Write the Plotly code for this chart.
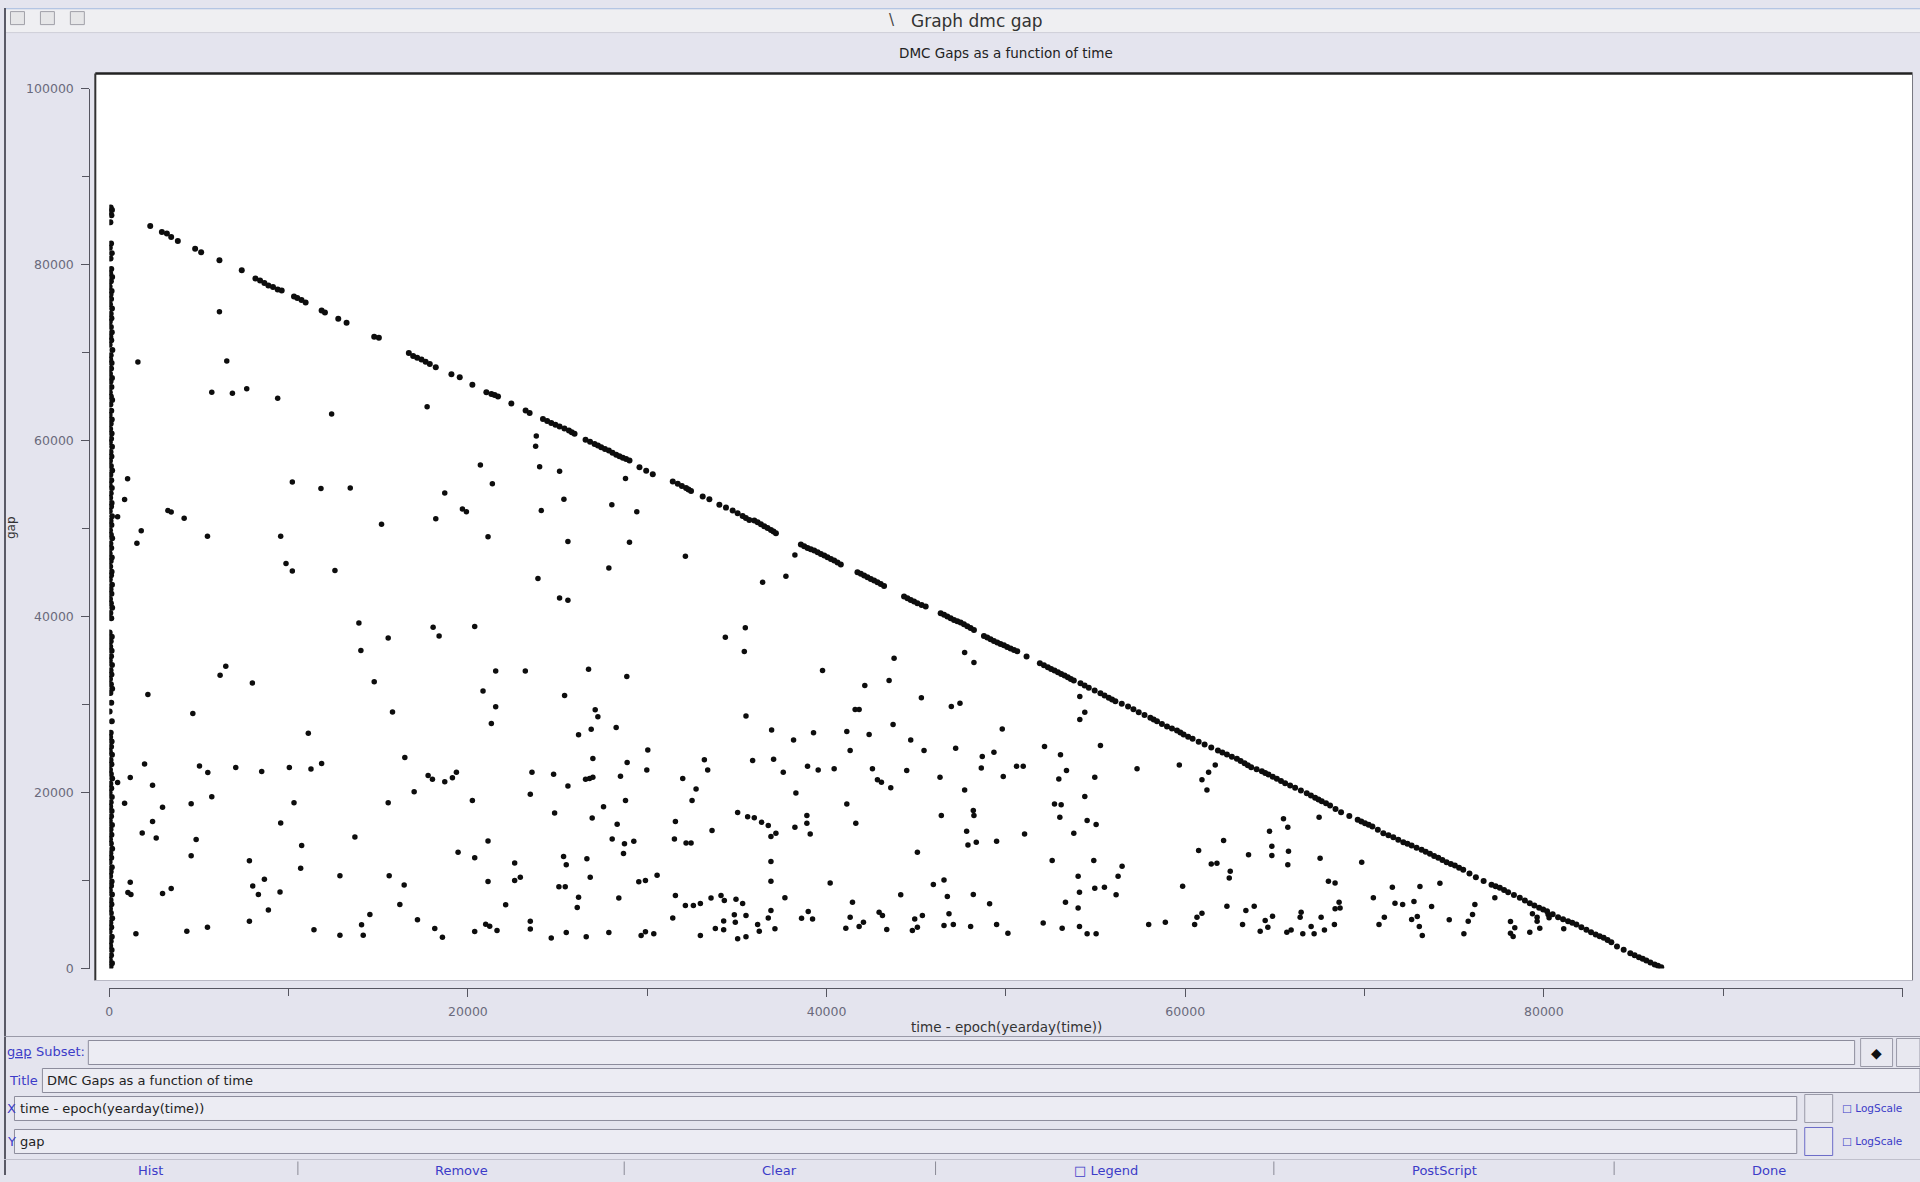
import plotly.graph_objects as go

# ---------------- data ----------------
x_tick_vals = [0, 20000, 40000, 60000, 80000]
x_tick_text = ["0", "20000", "40000", "60000", "80000"]
y_tick_vals = [0, 20000, 40000, 60000, 80000, 100000]
y_tick_text = ["0", "20000", "40000", "60000", "80000", "100000"]

# vertical cluster of gaps at time ~0
col_pts = [(80,86500),(150,86200),(40,85900),(120,85600),(60,84800),(100,82400),(30,81900),(140,81300),(70,80700),(110,79500),(50,79000),(160,78600),(90,78100),(20,77500),(130,77000),(70,76600),(100,76100),(40,75500),(150,75000),(80,74400),(120,73900),(30,73500),(90,72900),(140,72300),(60,71800),(110,71400),(20,70900),(170,70300),(80,69700),(50,69200),(130,68800),(100,68200),(40,67600),(150,67100),(70,66700),(120,66100),(30,65500),(90,65000),(160,64600),(60,64100),(110,63400),(20,62900),(140,62400),(80,61900),(50,61300),(130,60800),(100,60200),(30,59800),(150,59300),(70,58700),(120,58200),(40,57700),(90,57100),(160,56600),(60,56100),(110,55500),(20,55000),(140,54600),(80,54000),(50,53500),(130,52900),(100,52500),(30,52000),(150,51400),(70,50900),(120,50400),(40,49800),(90,49300),(160,48900),(60,48300),(110,47800),(20,47200),(140,46700),(80,46300),(50,45700),(130,45100),(100,44700),(30,44200),(150,43600),(70,43100),(120,42600),(40,42000),(90,41500),(160,41000),(60,40400),(110,39800),(20,38200),(140,37700),(80,37200),(50,36600),(130,36100),(100,35500),(30,35000),(150,34500),(70,33900),(120,33400),(40,32900),(90,32300),(160,31800),(60,31300),(110,30200),(20,29200),(140,28100),(80,26800),(50,26300),(130,25800),(100,25200),(30,24700),(150,24300),(70,23700),(120,23200),(40,22600),(90,22100),(160,21600),(60,21000),(110,20500),(20,20000),(140,19500),(80,18900),(50,18400),(130,17900),(100,17300),(30,16800),(150,16300),(70,15800),(120,15200),(40,14700),(90,14200),(160,13600),(60,13100),(110,12600),(20,12100),(140,11500),(80,11000),(50,10500),(130,9900),(100,9400),(30,8900),(150,8400),(70,7800),(120,7300),(40,6800),(90,6300),(160,5700),(60,5200),(110,4700),(20,4200),(140,3600),(80,3100),(50,2600),(130,2100),(100,1500),(30,1000),(150,600),(70,200)]

# upper boundary (gap equal to the rest of the day)
diag_pts = [(2283,84390),(2932,83700),(3211,83530),(3452,83130),(3823,82670),(4788,81810),(5123,81410),(6143,80490),(7387,79350),(8150,78420),(8408,78200),(8649,77920),(8872,77630),(9130,77450),(9391,77170),(9614,77060),(10301,76370),(10486,76200),(10720,75960),(10950,75690),(11841,74770),(12027,74540),(12769,73850),(13233,73390),(14773,71790),(15034,71680),(16704,69960),(16945,69620),(17170,69420),(17409,69210),
(17640,68960),(17873,68710),(18207,68330),(19079,67530),(19543,67200),(20248,66340),(21028,65490),(21306,65300),(21490,65170),(21678,65020),(22420,64210),(23218,63410),(23441,63120),(24184,62460),(24420,62220),(24648,61990),(24880,61800),(25111,61610),(25380,61380),(25631,61140),(25790,60950),(25946,60760),(26559,60090),(26810,59860),(27060,59620),(27250,59430),(27432,59240),(27640,59050),(27858,58860),(28060,58620),(28266,58390),(28450,58220),(28638,58060),(28820,57890),(29009,57730),(29566,56970),(29940,56570),(30308,56160),(31422,55360),(31700,55080),(31930,54840),(32164,54600),(32300,54430),(32442,54270),(33092,53650),(33463,53320),(34020,52710),(34390,52380),(34762,52040),(35040,51740),(35319,51430),(35500,51200),(35690,50960),
(35970,50910),(36154,50718),(36340,50490),(36526,50263),(36710,50050),(36897,49847),(37040,49660),(37175,49468),(38567,48180),(38750,47990),(38938,47801),(39120,47650),(39310,47498),(39500,47310),(39681,47119),(39870,46930),(40052,46740),(40240,46550),(40423,46362),(40610,46130),(40794,45907),(41722,45036),(41910,44850),(42094,44657),(42280,44470),(42465,44278),(42650,44090),(42836,43900),(43020,43690),(43207,43483),(44321,42271),(44510,42080),(44692,41892),(44880,41700),(45063,41513),(45300,41320),(45527,41134),(46362,40377),(46550,40190),(46734,39998),(46920,39810),(47105,39619),(47290,39470),(47476,39316),(47660,39110),(47847,38899),(48030,38690),(48218,38483),(48775,37801),(48960,37610),(49146,37422),(49330,37230),(49518,37043),(49700,36890),(49889,36740),(50070,36550),(50260,36361),(50450,36210),(50631,36058),(51151,35452),(51893,34694),(52120,34470),(52339,34240),(52520,34050),(52710,33861),(52900,33670),(53081,33482),(53270,33290),(53453,33104),(53620,32910),(53787,32725),
(54158,32424),(54390,32160),(54622,31894),(54950,31590),(55271,31288),(55500,31020),(55735,30758),(55920,30570),(56106,30379),(56460,30080),(56812,29773),(57110,29450),(57406,29129),(57730,28810),(58055,28485),(58240,28300),(58426,28106),(58700,27800),(58983,27500),(59260,27270),(59540,27045),(59730,26820),(59911,26591),(60160,26340),(60412,26098),(60750,25780),(61080,25455),(61450,25110),(61823,24773),(62070,24550),(62324,24318),(62600,24070),(62881,23826),(63090,23580),(63308,23333),(63490,23110),(63679,22879),(63980,22650),(64273,22424),(64460,22230),(64644,22045),(64880,21800),(65108,21553),(65340,21310),(65572,21060),(65850,20800),(66129,20530),(66450,20230),(66778,19924),(67010,19660),(67242,19394),(67430,19200),(67614,19015),(67850,18770),(68078,18522),(68380,18140),(68690,17765),(69150,17330),(69618,16894),(69820,16700),(70026,16515),(70230,16330),(70435,16136),(70740,15760),(71047,15378),(71330,15150),(71604,14924),
(71880,14640),(72161,14356),(72390,14170),(72625,13977),(72900,13730),(73182,13485),(73410,13260),(73646,13030),(73880,12800),(74110,12575),(74340,12330),(74574,12083),(74810,11890),(75038,11704),(75270,11460),(75502,11212),(75850,10800),(76207,10378),(76640,9940),(77079,9507),(77310,9340),(77543,9166),(77780,8920),(78007,8674),(78330,8350),(78657,8030),(78940,7730),(79214,7424),(79470,7160),(79733,6893),(79960,6700),(80179,6515),(80490,6170),(80792,5833),(81070,5610),(81348,5378),(81580,5190),(81812,5000),(82090,4700),(82369,4393),(82630,4130),(82888,3863),(83110,3670),(83334,3484),(83550,3240),(83761,2992),(84076,2499),(84450,2120),(84819,1742),(85060,1520),(85301,1288),(85510,1100),(85712,909),(85940,680),(86175,454),(86360,300),(86545,151)]

# the scattered gaps below the boundary
scatter_pts = [(1596,68930),(6143,74650),(6552,69040),(5716,65490),(6867,65380),(7665,65900),(9391,64800),(12398,63030),(1021,55650),(854,53300),(464,51350),(3267,52040),(3452,51870),(4176,51180),(1782,49750),(1540,48320),(5475,49120),(9558,49120),(10208,55300),(11804,54560),(13437,54620),(15182,50490),(9855,46030),(10208,45170),(12584,45230),(13920,39270),(15553,37560),(14031,36130),(14774,32580),(6496,34350),(6180,33320),(7980,32460),(2153,31140),(4659,28970),(15794,29140),(11099,26740),(1967,23240),(1169,21700),(464,21130),(2413,20840),(5030,23010),(5494,22270),(7053,22840),(8500,22380),(10041,22840),(11247,22670),(11841,23300),(16481,23990),(854,18780),(2970,18320),(4566,18720),(5716,19520),(10301,18840),(15553,18840),(17001,20090),(2413,16720),(1837,15400),(2617,14830),(4844,14660),(9558,16550),(4566,12820),(7814,12250),(10728,13970),(10672,11390),(13697,14940),(1169,9790),(1039,8640),(1206,8420),(2970,8530),(3452,9100),(8000,9390),(8649,10130),(8315,8420),(9521,8700),(12862,10530),(15609,10530),(16444,9500),(8872,6640),(16203,7270),(14532,6130),(7814,5380),(17186,5550),(1485,3950),(4324,4240),(5475,4690),(11414,4410),(12862,3780),(14068,4980),(14160,3780),
(17724,63835),(23812,60520),(23775,59340),(20694,57210),(23998,57020),(25111,56500),(21362,55080),(28786,55690),(18708,54030),(25353,53320),(28025,52710),(19692,52230),(19914,51900),(18207,51100),(24090,52040),(29417,51900),(21121,49060),(25575,48540),(29009,48450),(32127,46840),(27858,45510),(23905,44330),(25111,42100),(25575,41860),(18058,38790),(18392,37790),(20378,38880),(34354,37650),(35468,38740),(35412,36040),(21548,33820),(23200,33820),(26726,34000),(28860,33200),(20842,31540),(25390,31020),(21548,29740),(21306,27850),(27097,29410),(27246,28610),(26169,26570),(26874,27190),(28266,27380),(35505,28700),(30030,24820),(26967,23870),(28879,23400),(33185,23730),(33370,22550),(17780,21930),(18021,21500),(18708,21220),(19135,21690),(19358,22310),(23571,22310),(24777,22070),(26559,21500),(26782,21600),(26967,21740),(28507,21840),(29974,22550),(31978,21600),(25575,20750),(23478,19800),(20248,19090),(24833,17670),(26930,17100),(27561,18380),(28786,19090),(32721,20410),(32498,19090),(31570,16720),(35041,17720),(35597,17240),(28322,16390),(28044,14730),(28730,14170),(29250,14450),(28674,13080),(31514,14730),(32164,14260),(32442,14260),(33612,15680),(21121,14500),(19450,13220),(20378,12600),(22606,11990),(25334,12740),(25483,11800),(26633,12460),(21121,9900),(22606,10000),(22921,10380),(25074,9290),(25427,9290),(26819,10380),(29528,9860),(29899,10000),(30549,10610),(22104,7250),(26169,8100),(26095,6920),(28415,8010),(31570,8290),(32127,7160),(32573,7160),(32962,7390),(33556,8010),(34113,8290),(34298,7730),(34948,7870),(35319,7390),(31422,5740),(34261,5410),(34855,6120),(34910,5260),(33797,4550),(34261,4410),(18151,4550),(18578,3560),(20378,4220),(20991,5030),(21214,4790),(21622,4320),(23478,5360),(23478,4500),(24647,3460),(25483,4080),(26596,3610),(27858,4080),(29658,3750),(29899,4170),(30364,3940),(32962,3750),(35041,3370),(35505,3610),
(38233,47000),(37732,44580),(36433,43900),(43764,35260),(39774,33860),(47699,35910),(48218,34770),(43486,32720),(42131,32160),(45286,30760),(41592,29430),(41815,29430),(46956,29770),(47439,30150),(43708,27720),(36934,27120),(39272,26780),(41128,26930),(42372,26590),(38159,25980),(44692,25980),(41314,24770),(45434,24770),(47198,25040),(49796,27230),(52153,25220),(35876,23630),(37045,23790),(38938,22990),(39532,22570),(40423,22690),(37584,22310),(42557,22690),(44469,22500),(48682,24090),(49332,24580),(48627,22800),(49852,21820),(50594,22990),(50965,22990),(53044,24280),(53378,22500),(52951,21550),(46325,21740),(42836,21440),(43059,21170),(43579,20530),(47699,20300),(38289,19960),(41128,18710),(52710,18710),(53081,18600),(53007,17190),(35969,17120),(36377,16620),(36748,16250),(37175,15380),(36897,15000),(38233,16060),(38901,17380),(38901,16510),(39087,15300),(41630,16510),(46399,17380),(48181,17950),(48218,17380),(47810,15600),(47884,14050),(48348,14350),(49481,14470),(51040,15300),(45063,13220),(36897,12160),(36897,9920),(40200,9730),(52580,12270),(37676,8030),(44135,8370),(45954,9540),(46548,10070),(46734,8180),(48181,8410),(49091,7350),(41444,7540),(53322,7540),(35505,6020),(36748,5750),(36897,6590),(38604,5720),(38976,6480),(39217,5640),(41314,5830),(42056,5260),(42929,6400),(43115,6020),(44915,5640),(45342,6020),(46826,6210),(36154,4990),(36247,4240),(37120,4510),(41073,4580),(41815,4770),(43356,4430),(44785,4310),(45063,4690),(46548,4880),(47068,4990),(48032,4770),(49481,4990),(50111,4010),(52079,5180),(53137,4580),
(54120,30910),(54399,29130),(54120,28300),(55271,25340),(57313,22690),(59670,23140),(61674,23140),(61303,22310),(60932,21440),(61210,20300),(54956,21740),(54399,19540),(54529,16820),(55030,16360),(53786,15380),(54900,12270),(56478,11630),(56255,10490),(54028,10490),(54102,8670),(54956,9130),(55494,9240),(56144,8370),(54028,6890),(54102,4770),(54529,3940),(55030,3940),(57962,5000),(58890,5260),(59855,9360),(60746,13410),(62139,14550),(61451,11890),(61767,11970),(62510,11060),(62454,10300),(63530,12920),(64700,15600),(64830,13900),(64830,12840),(65479,17010),(65720,16060),(65758,13330),(65720,11780),(67465,17200),(67521,12540),(69841,12080),(67985,9920),(68356,9730),(62324,7080),(63381,6590),(63846,7080),(60654,5830),(60932,6290),(60524,5000),(63196,5000),(64458,5450),(64867,5940),(64607,4700),(64180,4240),(65665,4130),(65906,4390),(66463,6400),(66407,5830),(66556,3940),(67020,4770),(67187,3940),(67577,5830),(67762,4390),(68319,5000),(68356,6780),(68579,7540),(68634,6890),(70490,8030),(71103,5830),(70806,5000),(71549,9240),(71697,7420),
(73089,9318),(74202,9697),(72124,7272),(72755,7613),(73738,7045),(72625,5568),(72940,5909),(73052,4772),(73219,3749),(74722,5530),(76151,7272),(76021,6136),(75780,5378),(75539,3939),(77265,8030),(78137,5340),(78378,4620),(78137,4015),(78286,3636),(79214,4128),(79362,6212),(79622,5833),(79622,5378),(79771,4583),(80235,6136),(80290,5757),(81107,4507)]

TITLE = "Graph dmc gap"
SUBTITLE = "DMC Gaps as a function of time"
X_TITLE = "time - epoch(yearday(time))"
Y_TITLE = "gap"

# ---------------- layout helpers (target pixel -> paper) ----------------
W, H = 1920, 1182
# small correction measured from earlier renders of this page
OX, OY, SY = 3.5, 7.4, 0.9874
BG = "#e4e4ee"
BLUE = "#3c3cc8"
PANEL_FS = 13
def clampx(x):
    return min(max(x, OX), OX + W)
def clampy(y):
    return min(max(y, OY), OY + SY * H)
def px(x):
    return (clampx(x) - OX) / W
def py(y):
    return 1 - ((clampy(y) - OY) / SY) / H

shapes = []
def rect(x0, y0, x1, y1, fill=None, line=None, lw=1, layer="below"):
    shapes.append(dict(type="rect", xref="paper", yref="paper",
                       x0=px(x0), x1=px(x1), y0=py(y1), y1=py(y0),
                       fillcolor=fill if fill else "rgba(0,0,0,0)",
                       line=dict(color=line if line else "rgba(0,0,0,0)", width=lw if line else 0),
                       layer=layer))
def hline(x0, x1, y, color, w=1, layer="below"):
    shapes.append(dict(type="line", xref="paper", yref="paper", x0=px(x0), x1=px(x1),
                       y0=py(y), y1=py(y), line=dict(color=color, width=w), layer=layer))
def vline(x, y0, y1, color, w=1, layer="below"):
    shapes.append(dict(type="line", xref="paper", yref="paper", x0=px(x), x1=px(x),
                       y0=py(y0), y1=py(y1), line=dict(color=color, width=w), layer=layer))

annotations = []
def text(x, y, s, size=11, color="#222", anchor="center", angle=0, family="DejaVu Sans"):
    annotations.append(dict(x=px(x), y=py(y), xref="paper", yref="paper", text=s,
                            showarrow=False, xanchor=anchor, yanchor="middle",
                            textangle=angle, font=dict(size=size, color=color, family=family)))

# window chrome
rect(0, 0, 1930, 9, fill="#b4c5e3")
rect(0, 9, 1930, 32, fill="#efeff2")
hline(0, 1930, 32, "#cfcfd8")
for bx in (10, 40, 70):
    rect(bx, 11, bx + 14, 24, fill="#e6e6e8", line="#a0a0a8")
vline(4.5, 0, 1182, "#5a5a66", 2)
text(893, 19, "\\", size=15, color="#444")
text(979, 20, TITLE, size=17, color="#333")
text(1008, 52, SUBTITLE, size=13.5, color="#222")

# plot frame
rect(95, 73, 1916, 980, fill="#ffffff")
hline(95, 1916, 73, "#222", 2.5)
vline(95, 73, 980, "#333", 2)
vline(1916, 73, 980, "#777780", 1)
hline(95, 1916, 980, "#b8b8c4", 1)

# axis titles
text(1008, 1026, X_TITLE, size=13.5, color="#333")
text(10, 527, Y_TITLE, size=12, color="#333", angle=-90)

# bottom control panel
hline(0, 1930, 1036, "#9a9aa8", 1)
# row 1: subset
text(5, 1051, "<u>gap</u>", size=PANEL_FS, color=BLUE, anchor="left")
text(34, 1051, "Subset:", size=PANEL_FS, color=BLUE, anchor="left")
rect(88, 1040, 1858, 1064, fill="#ececf3", line="#8c8c9c")
rect(1864, 1038, 1896, 1066, fill="#e8e8f0", line="#9a9aa8")
text(1880, 1052, "◆", size=14, color="#111")
rect(1900, 1038, 1930, 1066, fill="#e8e8f0", line="#9a9aa8")
# row 2: title
text(7, 1080, "Title", size=PANEL_FS, color=BLUE, anchor="left")
rect(42, 1068, 1930, 1092, fill="#ececf3", line="#8c8c9c")
text(45, 1080, SUBTITLE, size=PANEL_FS, color="#222", anchor="left")
# row 3: x
text(5, 1108, "X", size=PANEL_FS, color=BLUE, anchor="left")
rect(14, 1096, 1800, 1120, fill="#ececf3", line="#8c8c9c")
text(18, 1108, X_TITLE, size=PANEL_FS, color="#222", anchor="left")
rect(1808, 1094, 1836, 1122, fill="#e8e8f0", line="#9a9aa8")
text(1843, 1108, "□ LogScale", size=10.5, color=BLUE, anchor="left")
# row 4: y
text(5, 1141, "Y", size=PANEL_FS, color=BLUE, anchor="left")
rect(14, 1129, 1800, 1153, fill="#ececf3", line="#8c8c9c")
text(18, 1141, Y_TITLE, size=PANEL_FS, color="#222", anchor="left")
rect(1808, 1127, 1836, 1155, fill="#e8e8f0", line="#6c6cc8")
text(1843, 1141, "□ LogScale", size=10.5, color=BLUE, anchor="left")
# row 5: buttons
hline(0, 1930, 1159, "#c0c0cc", 1)
for sx in (298, 625, 937, 1276, 1617):
    vline(sx, 1161, 1175, "#8a8a96", 1)
for bx, lab in ((150, "Hist"), (462, "Remove"), (781, "Clear"), (1108, "□ Legend"),
                (1447, "PostScript"), (1772, "Done")):
    text(bx, 1170.5, lab, size=PANEL_FS, color=BLUE)
rect(0, 1177, 1930, 1190, fill="#4a4a52")

# ---------------- figure ----------------
fig = go.Figure()
marker_big = dict(color="#0d0d0d", size=6, symbol="circle", line=dict(width=0))
marker_small = dict(color="#0d0d0d", size=5.5, symbol="circle", line=dict(width=0))
fig.add_trace(go.Scatter(x=[p[0] for p in col_pts], y=[p[1] for p in col_pts],
                         mode="markers", marker=marker_big, hoverinfo="skip"))
fig.add_trace(go.Scatter(x=[p[0] for p in diag_pts], y=[p[1] for p in diag_pts],
                         mode="markers", marker=marker_big, hoverinfo="skip"))
fig.add_trace(go.Scatter(x=[p[0] for p in scatter_pts], y=[p[1] for p in scatter_pts],
                         mode="markers", marker=marker_small, hoverinfo="skip"))

axis_common = dict(showgrid=False, zeroline=False, showline=True, linecolor="#555560",
                   linewidth=1, ticks="outside", ticklen=8, tickcolor="#555560",
                   tickfont=dict(family="DejaVu Sans", size=12.5, color="#6a6a7c"),
                   minor=dict(dtick=10000, tick0=0, ticks="outside", ticklen=7,
                              tickcolor="#555560", showgrid=False),
                   fixedrange=True)

fig.update_layout(
    width=W, height=H,
    margin=dict(l=0, r=0, t=0, b=0),
    paper_bgcolor=BG, plot_bgcolor="#ffffff",
    showlegend=False,
    shapes=shapes, annotations=annotations,
    xaxis=dict(domain=[px(109), px(1906)], range=[0, 100000], anchor="free",
               position=py(987), tickvals=x_tick_vals + [100000], ticktext=x_tick_text + [""],
               ticklabelstandoff=4, **axis_common),
    yaxis=dict(domain=[py(968), py(88)], range=[0, 100000], anchor="free",
               position=px(89), tickvals=y_tick_vals, ticktext=y_tick_text,
               ticklabelstandoff=5, **axis_common),
)

fig.write_html(
    "out.html",
    config={"displayModeBar": False},
    post_script=("document.documentElement.style.margin='0';"
                 "document.body.style.margin='0';document.body.style.padding='0';"
                 "document.body.style.overflow='hidden';"
                 "document.documentElement.style.overflow='hidden';"
                 "var gd=document.getElementById('{plot_id}');"
                 "gd.style.position='fixed';gd.style.left='0px';gd.style.top='0px';"),
)
